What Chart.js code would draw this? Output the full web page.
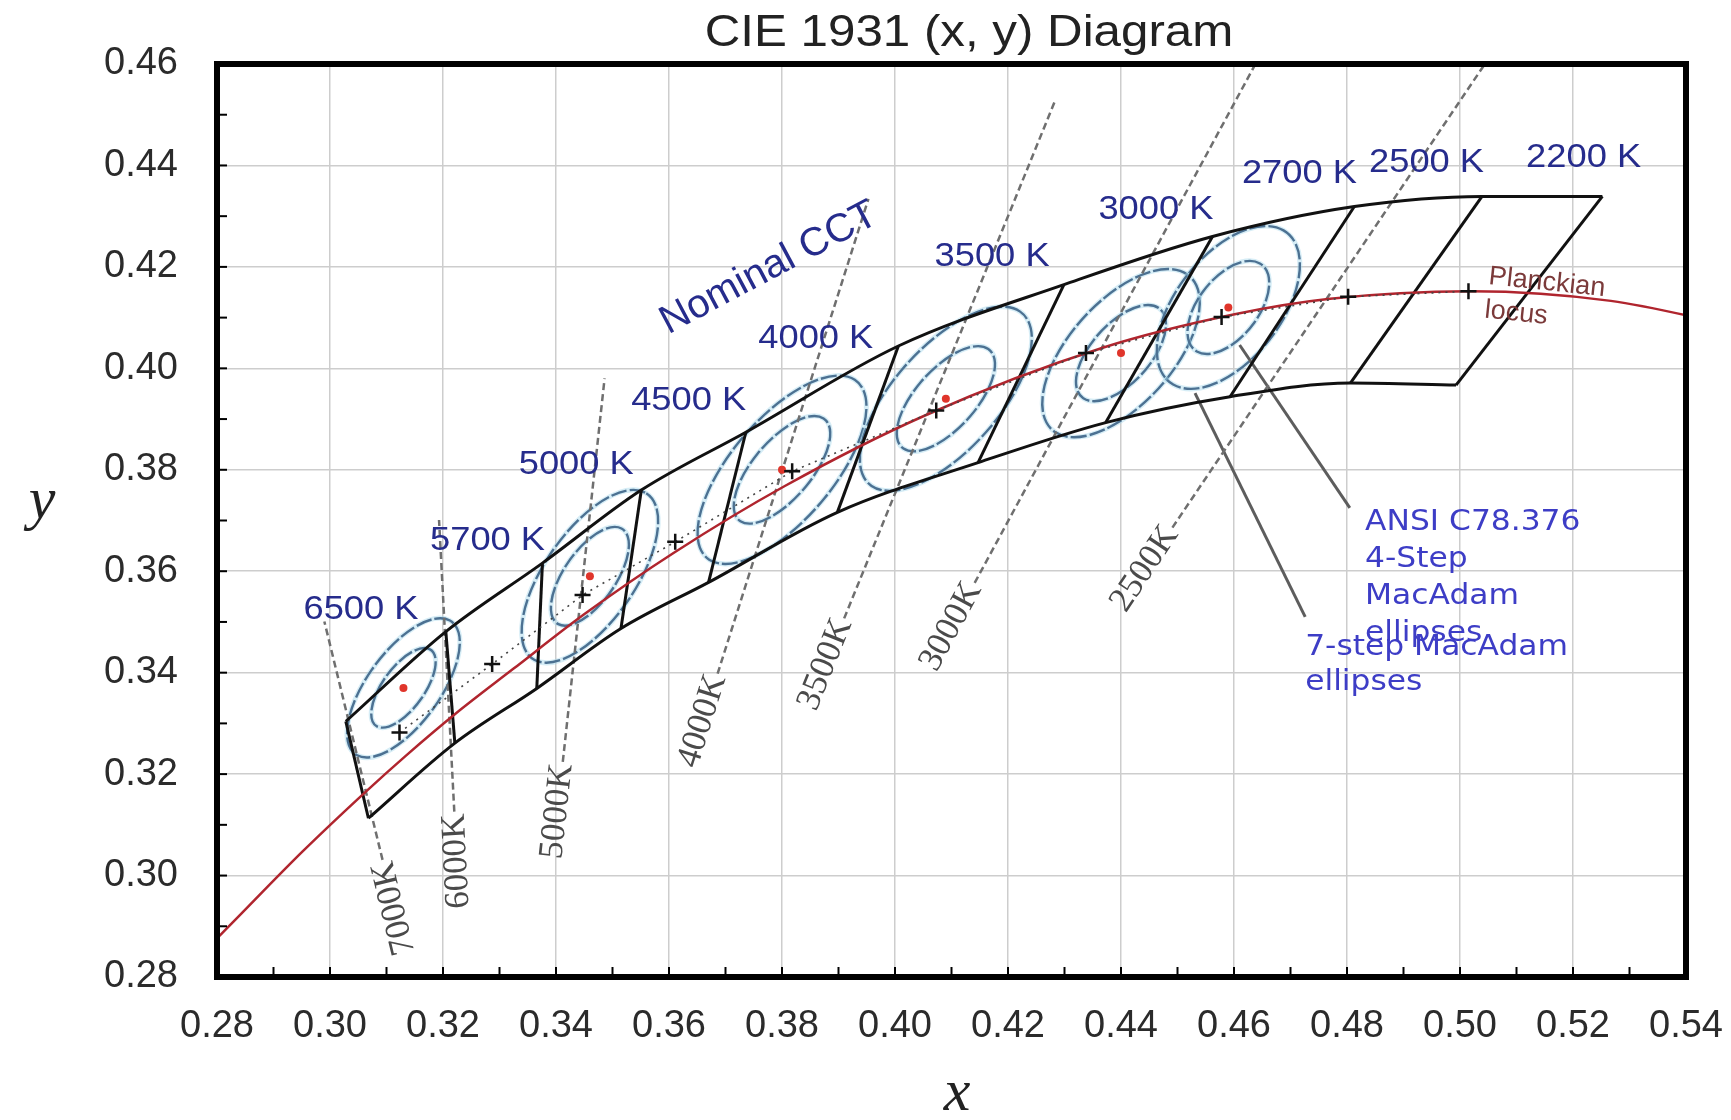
<!DOCTYPE html>
<html>
<head>
<meta charset="utf-8">
<title>CIE 1931 (x, y) Diagram</title>
<script src="https://cdn.jsdelivr.net/npm/chart.js@4.4.1/dist/chart.umd.min.js"></script>
<style>
    html, body { margin: 0; padding: 0; background: #fff; }
</style>
</head>
<body>
<canvas id="cieChart" width="1731" height="1120"></canvas>
<script>
// axis ticks
const xTicks = [0.28, 0.30, 0.32, 0.34, 0.36, 0.38, 0.40, 0.42, 0.44, 0.46, 0.48, 0.50, 0.52, 0.54];
const yTicks = [0.28, 0.30, 0.32, 0.34, 0.36, 0.38, 0.40, 0.42, 0.44, 0.46];

// Planckian locus (x, y), hot end -> warm end
const locusX = [0.2758, 0.2807, 0.2952, 0.3064, 0.3135, 0.3221, 0.3325, 0.3451, 0.3608, 0.3805, 0.4053, 0.4369, 0.4599, 0.4770, 0.5019, 0.5267, 0.5496];
const locusY = [0.2830, 0.2884, 0.3048, 0.3166, 0.3237, 0.3318, 0.3408, 0.3516, 0.3636, 0.3768, 0.3907, 0.4041, 0.4106, 0.4137, 0.4152, 0.4133, 0.4081];

// ANSI quadrangle corners, upper and lower edge (6500 K left -> 2200 K right)
const quadTopX = [0.3028, 0.3205, 0.3376, 0.3551, 0.3736, 0.4006, 0.4299, 0.4562, 0.4813, 0.5039, 0.5252];
const quadTopY = [0.3304, 0.3481, 0.3616, 0.3760, 0.3874, 0.4044, 0.4165, 0.4260, 0.4319, 0.4339, 0.4339];
const quadBotX = [0.3068, 0.3221, 0.3366, 0.3515, 0.3670, 0.3898, 0.4147, 0.4373, 0.4593, 0.4806, 0.4993];
const quadBotY = [0.3113, 0.3261, 0.3369, 0.3487, 0.3578, 0.3716, 0.3814, 0.3893, 0.3944, 0.3971, 0.3967];

// nominal CCT centre points (black crosses)
const cctNames = ["6500 K", "5700 K", "5000 K", "4500 K", "4000 K", "3500 K", "3000 K", "2700 K", "2500 K", "2200 K"];
const centreX = [0.3123, 0.3287, 0.3447, 0.3611, 0.3818, 0.4073, 0.4338, 0.4578, 0.4802, 0.5015];
const centreY = [0.3282, 0.3417, 0.3553, 0.3658, 0.3797, 0.3917, 0.4030, 0.4101, 0.4141, 0.4152];

// MacAdam ellipses (red centre dots), 1-step semi axes and tilt in degrees
const ellipseX = [0.3130, 0.3460, 0.3800, 0.4090, 0.4400, 0.4590];
const ellipseY = [0.3370, 0.3590, 0.3800, 0.3940, 0.4030, 0.4120];
const ellipseA = [0.00223, 0.00274, 0.00313, 0.00309, 0.00278, 0.00258];
const ellipseB = [0.00095, 0.00118, 0.00134, 0.00138, 0.00136, 0.00137];
const ellipseTheta = [58.23, 59.37, 54.00, 52.58, 53.13, 57.28];
const macAdamSteps = [4, 7];

// isotemperature lines (gray dashed)
const isoNames = ["7000K", "6000K", "5000K", "4000K", "3500K", "3000K", "2500K"];
const isoTopX = [0.2990, 0.3193, 0.3486, 0.3953, 0.4282, 0.4638, 0.5044];
const isoTopY = [0.3501, 0.3701, 0.3980, 0.4334, 0.4524, 0.4600, 0.4600];
const isoBotX = [0.3093, 0.3220, 0.3412, 0.3686, 0.3910, 0.4141, 0.4491];
const isoBotY = [0.3031, 0.3126, 0.3224, 0.3398, 0.3507, 0.3577, 0.3686];

// label placement (data coords) - annotation layout only
const cctLabelSpots = [
    [0.2953, 0.3523], [0.3177, 0.3660], [0.3334, 0.3809], [0.3533, 0.3936], [0.3758, 0.4058],
    [0.4070, 0.4220], [0.4360, 0.4312], [0.4614, 0.4383], [0.4839, 0.4405], [0.5117, 0.4415],
];
const leaders = [
    [0.4805, 0.3725, 0.4610, 0.4046],
    [0.4726, 0.3510, 0.4531, 0.3951],
];

function seg(x0, y0, x1, y1) {
    return [{ x: x0, y: y0 }, { x: x1, y: y1 }];
}

function lineSet(data, color, width, extra) {
    return Object.assign({
        data,
        showLine: true,
        borderColor: color,
        borderWidth: width,
        pointRadius: 0,
        fill: false,
    }, extra || {});
}

const datasets = [];

// crosses + dotted guide through the nominal centres
datasets.push(lineSet(centreX.map((x, i) => ({ x, y: centreY[i] })), "#444", 1.6, {
    borderDash: [2, 5],
    pointStyle: "cross",
    pointRadius: 8,
    pointBorderWidth: 2.5,
    pointBorderColor: "#111",
}));

// red ellipse centres
datasets.push({
    data: ellipseX.map((x, i) => ({ x, y: ellipseY[i] })),
    showLine: false,
    pointRadius: 4,
    pointBackgroundColor: "#e0352b",
    pointBorderWidth: 0,
});

// Planckian locus
datasets.push(lineSet(locusX.map((x, i) => ({ x, y: locusY[i] })), "#b0252e", 2.5, {
    cubicInterpolationMode: "monotone",
}));

// quadrangles
datasets.push(lineSet(quadTopX.map((x, i) => ({ x, y: quadTopY[i] })), "#111", 3, { cubicInterpolationMode: "monotone" }));
datasets.push(lineSet(quadBotX.map((x, i) => ({ x, y: quadBotY[i] })), "#111", 3, { cubicInterpolationMode: "monotone" }));
quadTopX.forEach((x, i) => {
    datasets.push(lineSet(seg(quadBotX[i], quadBotY[i], x, quadTopY[i]), "#111", 3));
});

// isotemperature lines
isoNames.forEach((n, i) => {
    datasets.push(lineSet(seg(isoBotX[i], isoBotY[i], isoTopX[i], isoTopY[i]), "#6f6f6f", 2.5, { borderDash: [7, 4] }));
});

// leader lines for the ellipse notes
leaders.forEach((l) => {
    datasets.push(lineSet(seg(l[0], l[1], l[2], l[3]), "#5d5d5d", 3));
});

function ellipsePath(ctx, xs, ys, cx, cy, a, b, deg) {
    const px = xs.getPixelForValue(cx);
    const py = ys.getPixelForValue(cy);
    const kx = xs.getPixelForValue(cx + 1) - px;
    const ky = ys.getPixelForValue(cy + 1) - py;
    ctx.save();
    ctx.translate(px, py);
    ctx.scale(kx, ky);
    ctx.rotate((deg * Math.PI) / 180);
    ctx.beginPath();
    ctx.ellipse(0, 0, a, b, 0, 0, Math.PI * 2);
    ctx.restore();
}

function drawText(ctx, str, x, y, o) {
    ctx.save();
    ctx.translate(x, y);
    if (o.rot) ctx.rotate((o.rot * Math.PI) / 180);
    if (o.sx) ctx.scale(o.sx, 1);
    ctx.font = o.font;
    ctx.fillStyle = o.color;
    ctx.textAlign = o.align || "left";
    ctx.textBaseline = o.base || "middle";
    ctx.fillText(str, 0, 0);
    ctx.restore();
}

const cieDecor = {
    id: "cieDecor",
    beforeDatasetsDraw(chart) {
        const { ctx, chartArea: a } = chart;
        const xs = chart.scales.x, ys = chart.scales.y;
        ctx.save();
        ctx.beginPath();
        ctx.rect(a.left, a.top, a.right - a.left, a.bottom - a.top);
        ctx.clip();
        ellipseX.forEach((cx, i) => {
            macAdamSteps.forEach((n) => {
                ellipsePath(ctx, xs, ys, cx, ellipseY[i], n * ellipseA[i], n * ellipseB[i], ellipseTheta[i]);
                ctx.setLineDash([]);
                ctx.lineWidth = 5;
                ctx.strokeStyle = "rgba(165, 215, 235, 0.45)";
                ctx.stroke();
                ctx.setLineDash([16, 3]);
                ctx.lineWidth = 2.4;
                ctx.strokeStyle = "#4c7192";
                ctx.stroke();
            });
        });
        ctx.restore();
    },
    afterDraw(chart) {
        const { ctx, chartArea: a } = chart;
        const xs = chart.scales.x, ys = chart.scales.y;
        ctx.save();

        // frame + inner minor ticks
        ctx.strokeStyle = "#000";
        ctx.lineWidth = 6;
        ctx.strokeRect(a.left, a.top, a.right - a.left, a.bottom - a.top);
        ctx.lineWidth = 2;
        for (let k = 1; k < 26; k++) {
            const px = xs.getPixelForValue(0.28 + k * 0.01);
            ctx.beginPath(); ctx.moveTo(px, a.bottom); ctx.lineTo(px, a.bottom - 10); ctx.stroke();
        }
        for (let k = 1; k < 18; k++) {
            const py = ys.getPixelForValue(0.28 + k * 0.01);
            ctx.beginPath(); ctx.moveTo(a.left, py); ctx.lineTo(a.left + 10, py); ctx.stroke();
        }

        // title and axis names
        drawText(ctx, "CIE 1931 (x, y) Diagram", 969, 34, { font: '44px "Liberation Sans", Arial, sans-serif', color: "#222", align: "center", sx: 1.12 });
        drawText(ctx, "x", 957, 1110, { font: 'italic 60px "Liberation Serif", "Times New Roman", serif', color: "#222", align: "center", base: "alphabetic" });
        drawText(ctx, "y", 42, 518, { font: 'italic 60px "Liberation Serif", "Times New Roman", serif', color: "#222", align: "center", base: "alphabetic" });

        // isotemperature labels, running up along each line and ending at its foot
        isoNames.forEach((n, i) => {
            const bx = xs.getPixelForValue(isoBotX[i]), by = ys.getPixelForValue(isoBotY[i]);
            const tx = xs.getPixelForValue(isoTopX[i]), ty = ys.getPixelForValue(isoTopY[i]);
            const ang = Math.atan2(ty - by, tx - bx);
            drawText(ctx, n, bx - Math.cos(ang) * 2, by - Math.sin(ang) * 2, {
                font: '35px "Liberation Serif", "Times New Roman", serif', color: "#4a4a4a", align: "right", rot: (ang * 180) / Math.PI,
            });
        });

        // CCT names
        cctNames.forEach((n, i) => {
            const p = cctLabelSpots[i];
            drawText(ctx, n, xs.getPixelForValue(p[0]), ys.getPixelForValue(p[1]), { font: '33px "Liberation Sans", Arial, sans-serif', color: "#262c8c", sx: 1.1 });
        });
        drawText(ctx, "Nominal CCT", xs.getPixelForValue(0.3777), ys.getPixelForValue(0.4197), {
            font: '40px "Liberation Sans", Arial, sans-serif', color: "#262c8c", align: "center", rot: -28,
        });

        // notes
        const note = { font: '29px "DejaVu Sans", Verdana, sans-serif', color: "#3d3dc6", sx: 1.08 };
        ["ANSI C78.376", "4-Step", "MacAdam", "ellipses"].forEach((s, i) => {
            drawText(ctx, s, xs.getPixelForValue(0.4832), ys.getPixelForValue(0.3696 - i * 0.0073), note);
        });
        ["7-step MacAdam", "ellipses"].forEach((s, i) => {
            drawText(ctx, s, xs.getPixelForValue(0.4726), ys.getPixelForValue(0.3449 - i * 0.0069), note);
        });
        const pl = { font: '27px "Liberation Sans", Arial, sans-serif', color: "#7b3a3a", rot: 6 };
        drawText(ctx, "Planckian", xs.getPixelForValue(0.5051), ys.getPixelForValue(0.4181), pl);
        drawText(ctx, "locus", xs.getPixelForValue(0.5044), ys.getPixelForValue(0.4115), pl);

        ctx.restore();
    },
};

const tickFont = { family: '"Liberation Sans", Arial, sans-serif', size: 38 };

new Chart(document.getElementById("cieChart"), {
    type: "scatter",
    data: { datasets },
    options: {
        responsive: false,
        animation: false,
        layout: { padding: { top: 64, right: 45, left: 0, bottom: 0 } },
        plugins: { legend: { display: false }, tooltip: { enabled: false }, title: { display: false } },
        scales: {
            x: {
                type: "linear",
                min: 0.28,
                max: 0.54,
                border: { display: false },
                grid: { color: "#cdcdcd", lineWidth: 1.5, drawTicks: false },
                ticks: { padding: 27, color: "#2b2b2b", font: tickFont, maxRotation: 0, autoSkip: false, callback: (v) => v.toFixed(2) },
                afterBuildTicks: (s) => { s.ticks = xTicks.map((v) => ({ value: v })); },
                afterFit: (s) => { s.height = 143; s.paddingLeft = 0; s.paddingRight = 0; },
            },
            y: {
                type: "linear",
                min: 0.28,
                max: 0.46,
                border: { display: false },
                grid: { color: "#cdcdcd", lineWidth: 1.5, drawTicks: false },
                ticks: { padding: 39, color: "#2b2b2b", font: tickFont, autoSkip: false, callback: (v) => v.toFixed(2) },
                afterBuildTicks: (s) => { s.ticks = yTicks.map((v) => ({ value: v })); },
                afterFit: (s) => { s.width = 217; s.paddingTop = 0; s.paddingBottom = 0; },
            },
        },
    },
    plugins: [cieDecor],
});
</script>
</body>
</html>
